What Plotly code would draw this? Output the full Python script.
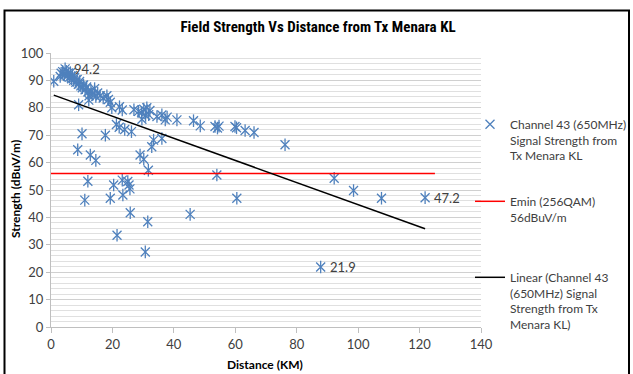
import plotly.graph_objects as go
import numpy as np

# ---- data ----
distance_km = [
    0.9, 3.0, 3.3, 3.8, 4.3, 4.6, 5.0, 5.3, 5.6, 6.0, 6.3, 6.7, 7.0, 7.4, 7.7, 8.1, 8.5, 8.9, 9.3, 9.7,
    10.2, 10.6, 11.1, 11.6, 12.0, 12.4, 12.3, 13.0, 13.4, 14.2, 14.6, 15.2, 16.0, 17.0, 18.2, 18.7, 19.3,
    19.8, 22.3, 23.2,
    9.0, 10.1, 17.7, 8.7, 12.8, 14.6, 12.0, 11.0, 20.4, 19.3, 23.2, 25.0, 25.4, 25.7, 23.4, 25.8, 21.5,
    31.5, 30.7, 45.3, 21.3, 22.2, 24.0, 26.2,
    27.0, 28.5, 29.5, 30.2, 31.2, 30.8, 31.8, 29.6, 32.2,
    34.5, 36.1, 37.2, 37.8, 41.0, 46.4, 48.6, 53.4, 54.2, 54.7, 59.9, 60.4, 63.2, 66.1, 76.2,
    33.4, 36.1, 32.8, 29.0, 30.2, 31.7,
    54.0, 92.2, 98.5, 60.5, 107.6, 121.8, 87.8,
]
strength_dbuv = [
    89.7, 91.4, 92.6, 93.2, 92.0, 94.2, 93.3, 91.6, 92.7, 91.2, 92.8, 90.6, 91.8, 90.0, 91.0, 89.3, 90.3, 88.6, 89.6, 88.0,
    87.3, 88.3, 86.6, 87.6, 85.8, 84.4, 82.8, 86.3, 84.9, 87.0, 84.1, 85.4, 84.4, 83.6, 84.4, 83.0, 82.0,
    80.0, 80.4, 79.2,
    81.1, 70.5, 70.0, 64.7, 62.8, 60.8, 53.2, 46.3, 51.8, 47.0, 53.6, 53.1, 51.8, 50.4, 48.2, 41.7, 33.5,
    38.4, 27.4, 41.1, 73.9, 72.9, 72.1, 71.3,
    79.3, 78.7, 78.2, 79.5, 80.0, 77.2, 77.5, 75.8, 79.0,
    76.8, 77.4, 75.6, 76.6, 75.6, 75.3, 73.4, 73.2, 72.6, 73.3, 73.2, 72.7, 71.7, 71.0, 66.5,
    68.2, 68.8, 65.8, 62.8, 61.2, 57.2,
    55.5, 54.3, 49.8, 47.0, 47.0, 47.2, 21.9,
]

emin_value = 56
emin_range = [0, 125]
trend_intercept = 85.0
trend_slope = -0.4035

series_name = "Channel 43 (650MHz)<br>Signal Strength from<br>Tx Menara KL"
emin_name = "Emin (256QAM)<br>56dBuV/m"
trend_name = "Linear (Channel 43<br>(650MHz) Signal<br>Strength from Tx<br>Menara KL)"
title_text = "Field Strength Vs Distance from Tx Menara KL"
x_title = "Distance (KM)"
y_title = "Strength (dBuV/m)"

# ---- figure ----
FONT = "Lato, 'Open Sans', sans-serif"
TITLE_FONT = "'Liberation Sans Narrow', 'Roboto Condensed', Lato, sans-serif"
BLUE = "#4F81BD"

x = np.array(distance_km)
y = np.array(strength_dbuv)

fig = go.Figure()

# vertical bar part of the star marker (no legend)
fig.add_trace(go.Scatter(
    x=x, y=y, mode="markers", showlegend=False, hoverinfo="skip",
    marker=dict(symbol="line-ns-open", size=9, color=BLUE, line=dict(color=BLUE, width=1.3)),
))
# diagonal part of the star marker
fig.add_trace(go.Scatter(
    x=x, y=y, mode="markers", name=series_name, legend="legend",
    marker=dict(symbol="x-thin-open", size=9, color=BLUE, line=dict(color=BLUE, width=1.3)),
))

# Emin line
fig.add_trace(go.Scatter(
    x=emin_range, y=[emin_value, emin_value], mode="lines", name=emin_name,
    legend="legend2", line=dict(color="#FF0000", width=1.5),
))

# linear trend line
tx = np.array([x.min(), x.max()])
fig.add_trace(go.Scatter(
    x=tx, y=trend_intercept + trend_slope * tx, mode="lines", name=trend_name,
    legend="legend3", line=dict(color="#000000", width=1.5),
))

L, R, T, B = 51, 152, 53, 47
W, H = 633, 374
pw, ph = W - L - R, H - T - B

def px_x(p):
    return (p - L) / pw

def px_y(p):
    return (H - B - p) / ph

# data labels: max, min, farthest point
annots = []
for idx in [int(np.argmax(y)), int(np.argmin(y)), int(np.argmax(x))]:
    annots.append(dict(
        x=x[idx], y=y[idx], xref="x", yref="y", text=f"{y[idx]:.1f}",
        showarrow=False, xanchor="left", yanchor="middle", xshift=7,
        font=dict(family=FONT, size=13, color="#404040"),
    ))
# axis titles
annots.append(dict(x=px_x(265), y=px_y(364), xref="paper", yref="paper",
                   text="<b>" + x_title + "</b>", showarrow=False,
                   xanchor="center", yanchor="middle",
                   font=dict(family=FONT, size=12, color="#000000")))
annots.append(dict(x=px_x(15), y=px_y(189), xref="paper", yref="paper",
                   text="<b>" + y_title + "</b>", showarrow=False, textangle=-90,
                   xanchor="center", yanchor="middle",
                   font=dict(family=FONT, size=12, color="#000000")))

leg_common = dict(
    xanchor="left", yanchor="top", bgcolor="rgba(0,0,0,0)",
    font=dict(family=FONT, size=12, color="#404040"), valign="top",
    itemwidth=30,
)

fig.update_layout(
    width=W, height=H,
    margin=dict(l=L, r=R, t=T, b=B, autoexpand=False),
    paper_bgcolor="white", plot_bgcolor="white",
    title=dict(text="<b>" + title_text + "</b>", x=318 / W, xref="container", xanchor="center",
               y=1 - 27 / H, yref="container", yanchor="middle",
               font=dict(family=TITLE_FONT, size=15, color="#000000")),
    xaxis=dict(range=[0, 140], dtick=20, tick0=0, showgrid=False, zeroline=False,
               showline=True, linecolor="#BFBFBF", linewidth=1,
               ticks="outside", ticklen=5, tickcolor="#BFBFBF",
               tickfont=dict(family=FONT, size=13, color="#404040")),
    yaxis=dict(range=[0, 100], dtick=10, tick0=0, showgrid=True, gridcolor="#D0D0D0",
               gridwidth=1, zeroline=False, showline=True, linecolor="#BFBFBF",
               ticks="outside", ticklen=4, tickcolor="#BFBFBF",
               tickfont=dict(family=FONT, size=13, color="#404040"),
               minor=dict(dtick=2, showgrid=True, gridcolor="#E0E0E0", gridwidth=1)),
    legend=dict(x=px_x(470), y=px_y(110), **leg_common),
    legend2=dict(x=px_x(470), y=px_y(187), **leg_common),
    legend3=dict(x=px_x(470), y=px_y(263), **leg_common),
    annotations=annots,
    shapes=[dict(type="rect", xref="paper", yref="paper",
                 x0=px_x(4.5), x1=px_x(629), y0=px_y(390), y1=px_y(10.5),
                 line=dict(color="#000000", width=2), layer="above")],
)

fig.write_html("out.html")
